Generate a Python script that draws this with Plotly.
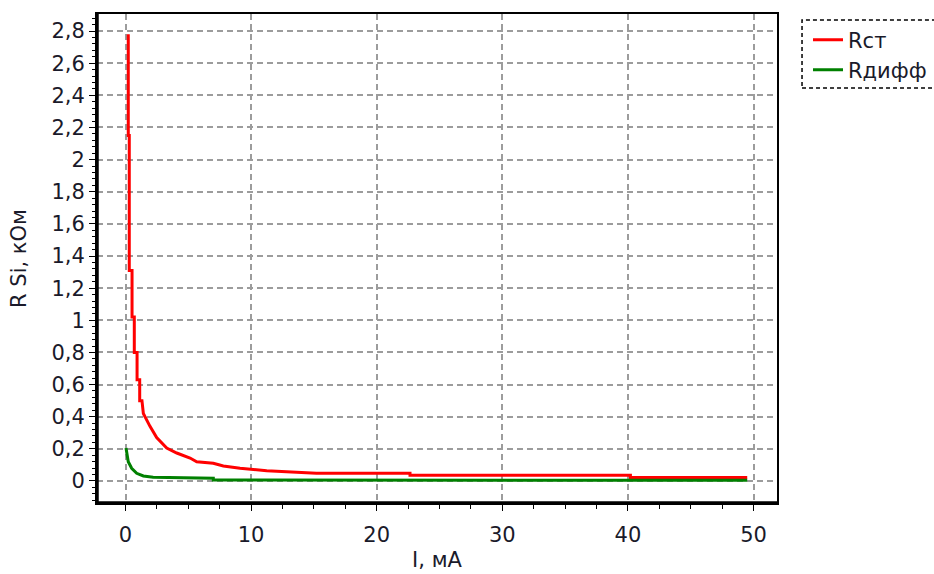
import plotly.graph_objects as go

# Data
i_rst = [0.22, 0.22, 0.30, 0.30, 0.52, 0.52, 0.70, 0.70, 0.92, 0.92, 1.13, 1.13, 1.31,
         1.42, 1.95, 2.48, 3.28, 4.08, 5.14, 5.67, 6.99, 7.79, 9.12, 11.24, 15.2,
         22.65, 22.65, 40.2, 40.2, 49.5]
r_st = [2.78, 2.15, 2.15, 1.31, 1.31, 1.02, 1.02, 0.80, 0.80, 0.63, 0.63, 0.50, 0.50,
        0.42, 0.34, 0.27, 0.205, 0.174, 0.143, 0.12, 0.11, 0.093, 0.079, 0.064, 0.048,
        0.048, 0.035, 0.035, 0.022, 0.022]

i_rdiff = [0.04, 0.22, 0.49, 0.89, 1.42, 2.2, 6.99, 6.99, 49.5]
r_diff = [0.205, 0.12, 0.079, 0.048, 0.031, 0.023, 0.017, 0.006, 0.004]

names = ["Rст", "Rдифф"]
colors = ["#ff0000", "#008000"]

x_title = "I, мА"
y_title = "R Si, кОм"

FONT = "DejaVu Sans, sans-serif"
TXT = "#1a1a2a"
FS = 21

fig = go.Figure()
fig.add_trace(go.Scatter(x=i_rst, y=r_st, mode="lines", name=names[0],
                         line=dict(color=colors[0], width=3), legend="legend"))
fig.add_trace(go.Scatter(x=i_rdiff, y=r_diff, mode="lines", name=names[1],
                         line=dict(color=colors[1], width=3), legend="legend2"))

axis_common = dict(
    showline=True, linecolor="black", linewidth=2, mirror=True,
    showgrid=True, gridcolor="#9c9c9c", gridwidth=1.5, griddash="6px,4px",
    zeroline=False, ticks="outside", ticklen=6, tickwidth=1, tickcolor="black",
    tickfont=dict(family=FONT, size=FS, color=TXT),
)

fig.update_xaxes(range=[-2.27, 51.87], dtick=10, tick0=0, ticklabelstandoff=6,
                 minor=dict(dtick=2.5, ticks="outside", ticklen=4, tickcolor="black", showgrid=False),
                 title=dict(text=x_title, font=dict(family=FONT, size=FS, color=TXT), standoff=6),
                 **axis_common)
fig.update_yaxes(range=[-0.137, 2.906], dtick=0.2, tick0=0,
                 minor=dict(dtick=0.04, ticks="outside", ticklen=3, tickcolor="black", showgrid=False),
                 title=dict(text=y_title, font=dict(family=FONT, size=FS, color=TXT), standoff=19),
                 **axis_common)

# thicker left/bottom frame
fig.add_shape(type="line", xref="paper", yref="paper", x0=0, x1=0, y0=0, y1=1,
              line=dict(color="black", width=3.5))
fig.add_shape(type="line", xref="paper", yref="paper", x0=0, x1=1, y0=0, y1=0,
              line=dict(color="black", width=3.5))
# dashed legend box
fig.add_shape(type="rect", xref="paper", yref="paper", x0=1.0368, x1=1.25, y0=0.8487, y1=0.9877,
              line=dict(color="black", width=1.5, dash="4px,3px"), fillcolor="rgba(0,0,0,0)")

leg_common = dict(xanchor="left", yanchor="middle", bgcolor="rgba(0,0,0,0)",
                  font=dict(family=FONT, size=FS, color=TXT), borderwidth=0)
lx = (808 - 97) / 680
fig.update_layout(
    width=934, height=574,
    margin=dict(l=97, r=157, t=14, b=71, autoexpand=False),
    paper_bgcolor="white", plot_bgcolor="white",
    separators=", ",
    showlegend=True,
    legend=dict(x=lx, y=(503 - 40) / 489, **leg_common),
    legend2=dict(x=lx, y=(503 - 70) / 489, **leg_common),
)

fig.write_html("out.html")
